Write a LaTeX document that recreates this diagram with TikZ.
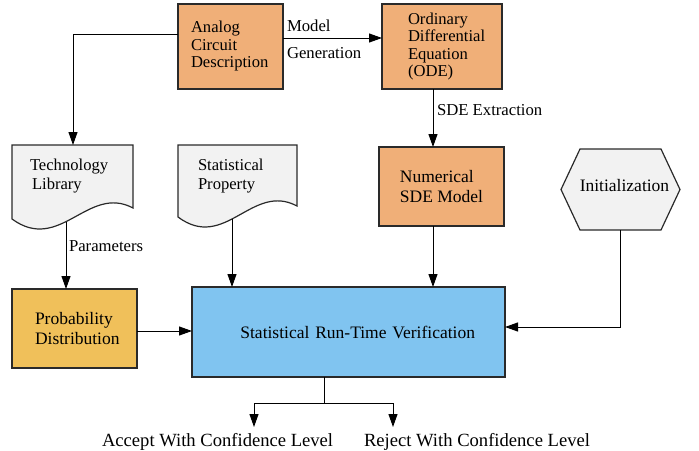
\documentclass[tikz,border=0pt]{standalone}
\usepackage{fontspec}
\setmainfont{Liberation Serif}
\usetikzlibrary{arrows.meta,calc}
\definecolor{boxorange}{HTML}{F0AF78}
\definecolor{boxgold}{HTML}{F0C05A}
\definecolor{boxblue}{HTML}{80C4F0}
\definecolor{docgray}{HTML}{F2F2F2}
\definecolor{edge}{HTML}{2A2A2A}
\begin{document}
\begin{tikzpicture}[x=1pt,y=-1pt,
  every node/.style={inner sep=0pt, outer sep=0pt},
  box/.style={draw=edge, line width=1.2pt, rectangle, align=left},
  shapeline/.style={draw=edge, line width=1.2pt, fill=docgray},
  conn/.style={draw=black, line width=1pt},
  arr/.style={conn, -{Triangle[length=13pt,width=9pt]}},
  fsmall/.style={font=\fontsize{16.6}{17.5}\selectfont},
  fmid/.style={font=\fontsize{17.5}{20.5}\selectfont},
  fdoc/.style={font=\fontsize{16.6}{19}\selectfont, align=left},
  fbig/.style={font=\fontsize{18.6}{20}\selectfont},
  lbl/.style={font=\fontsize{16.7}{18}\selectfont}]
\useasboundingbox (0,0) rectangle (699,450);

% --- process boxes ---
\node[box, fill=boxorange, fsmall, minimum height=85pt, text width=79pt, inner xsep=13pt]
  (analog) at (230.5,46.5) {Analog\\Circuit\\Description};
\node[box, fill=boxorange, fsmall, minimum height=85pt, text width=68pt, inner xsep=26pt]
  (ode) at (442,46.5) {Ordinary\\Differential\\Equation\\(ODE)};
\node[box, fill=boxorange, fmid, minimum width=125pt, minimum height=79pt]
  (num) at (441.5,186.5) {Numerical\\SDE Model};
\node[box, fill=boxgold, fmid, minimum height=79pt, text width=79pt, inner xsep=23pt]
  (prob) at (74.5,328.5) {Probability\\Distribution};
\node[box, fill=boxblue, fmid, align=right, minimum height=90pt, text width=253pt, inner xsep=30pt]
  (verif) at (348.5,332) {Statistical Run-Time Verification};

% --- document shapes ---
\path[shapeline] (12,145) -- (133,145) -- (133,208)
  .. controls (88,184) and (60,254) .. (12,219) -- cycle;
\node[fdoc, anchor=base west] (techlib) at (30,189) {Technology\\\hspace*{2pt}Library};
\path[shapeline] (178,145) -- (297,145) -- (297,206)
  .. controls (252,182) and (225,252) .. (178,217) -- cycle;
\node[fdoc, anchor=base west] (statprop) at (198,189) {Statistical\\Property};

% --- initialization hexagon ---
\path[shapeline] (561,189.5) -- (580,149) -- (661,149) -- (680,189.5)
  -- (661,230) -- (580,230) -- cycle;
\node[fmid] (init) at (624.5,185.5) {Initialization};

% --- connector end points ---
\coordinate (initbot) at (620,230);
\coordinate (techbot) at (66,222);
\coordinate (propbot) at (232,219);
\coordinate (split) at (324,403);
\coordinate (acctip) at (254,427);
\coordinate (rejtip) at (393,427);

% --- connectors ---
\draw[arr] ([yshift=8.5pt]analog.east) -- ([yshift=8.5pt]ode.west);
\node[lbl, anchor=base west] (modellbl) at (287,31) {Model};
\node[lbl, anchor=base west] (genlbl) at (287,58) {Generation};

\draw[arr] ([yshift=12.5pt]analog.west) -| (73,145);

\draw[arr] ([xshift=-9pt]ode.south) -- ([xshift=-8.5pt]num.north);
\node[lbl, anchor=base west] (sdelbl) at (437,115) {SDE Extraction};

\draw[arr] ([xshift=-8.5pt]num.south) -- ([xshift=-8.5pt]num.south |- verif.north);
\draw[arr] (propbot) -- (propbot |- verif.north);
\draw[arr] (techbot) -- (techbot |- prob.north);
\node[lbl, anchor=base west] (paramlbl) at (69,251) {Parameters};

\draw[arr] ([yshift=-2.5pt]prob.east) -- ([yshift=-2.5pt]prob.east -| verif.west);
\draw[arr] (initbot) |- ([yshift=5pt]verif.east);

\draw[conn] (split |- verif.south) -- (split);
\draw[arr] (split) -| (acctip);
\draw[arr] (split) -| (rejtip);
\node[fbig, anchor=base west] (accept) at (102,446) {Accept With Confidence Level};
\node[fbig, anchor=base west] (reject) at (364,446) {Reject With Confidence Level};
\end{tikzpicture}
\end{document}
